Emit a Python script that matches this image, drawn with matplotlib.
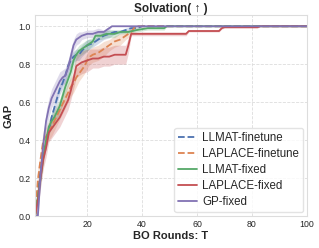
import matplotlib
matplotlib.use("Agg")
import matplotlib.pyplot as plt
import numpy as np
import seaborn as sns

sns.set_theme(style="whitegrid")
plt.rcParams['font.family'] = ['Liberation Sans', 'DejaVu Sans']

labels = ["LLMAT-finetune", "LAPLACE-finetune", "LLMAT-fixed", "LAPLACE-fixed", "GP-fixed"]
colors = ["#4C72B0", "#DD8452", "#55A868", "#C44E52", "#8172B3"]
styles = ["--", "--", "-", "-", "-"]

llmat_ft_x = [1, 2, 3, 4, 5, 6, 7, 8, 9, 10, 11, 12, 13, 14, 15, 16, 17, 18, 20, 22, 24, 26, 28, 30, 32, 34, 36, 38, 40, 100]
llmat_ft_y = [0.0, 0.12, 0.25, 0.33, 0.38, 0.45, 0.52, 0.57, 0.62, 0.67, 0.70, 0.74, 0.79, 0.82, 0.84, 0.85, 0.85, 0.87, 0.90, 0.91, 0.93, 0.95, 0.96, 0.97, 0.97, 0.98, 0.99, 0.99, 1.0, 1.0]
llmat_ft_s = [0.0, 0.03, 0.03, 0.03, 0.03, 0.03, 0.03, 0.03, 0.03, 0.03, 0.03, 0.03, 0.03, 0.03, 0.03, 0.03, 0.03, 0.03, 0.03, 0.02, 0.02, 0.02, 0.02, 0.01, 0.01, 0.01, 0.01, 0.01, 0.0, 0.0]

laplace_ft_x = [1, 2, 3, 4, 5, 6, 7, 8, 9, 10, 11, 12, 13, 14, 15, 16, 17, 18, 19, 20, 21, 22, 24, 26, 28, 30, 32, 34, 36, 37, 38, 100]
laplace_ft_y = [0.0, 0.19, 0.30, 0.40, 0.42, 0.45, 0.47, 0.50, 0.53, 0.56, 0.59, 0.62, 0.65, 0.68, 0.70, 0.73, 0.75, 0.77, 0.79, 0.82, 0.84, 0.85, 0.86, 0.88, 0.90, 0.92, 0.93, 0.95, 0.97, 0.99, 1.0, 1.0]
laplace_ft_s = [0.0, 0.06, 0.05, 0.05, 0.05, 0.05, 0.05, 0.05, 0.05, 0.05, 0.05, 0.05, 0.05, 0.05, 0.05, 0.05, 0.04, 0.04, 0.04, 0.04, 0.04, 0.04, 0.04, 0.04, 0.03, 0.03, 0.03, 0.02, 0.02, 0.01, 0.0, 0.0]

llmat_fx_x = [1, 2, 3, 4, 5, 6, 7, 8, 9, 10, 11, 12, 13, 14, 15, 16, 17, 18, 20, 22, 23, 25, 27, 30, 32, 35, 38, 42, 48, 49, 100]
llmat_fx_y = [0.0, 0.10, 0.20, 0.31, 0.40, 0.47, 0.50, 0.52, 0.55, 0.58, 0.63, 0.68, 0.72, 0.76, 0.82, 0.85, 0.87, 0.88, 0.90, 0.92, 0.95, 0.95, 0.96, 0.96, 0.97, 0.97, 0.98, 0.99, 0.99, 1.0, 1.0]
llmat_fx_s = [0.0, 0.05, 0.04, 0.04, 0.04, 0.04, 0.04, 0.04, 0.04, 0.04, 0.04, 0.04, 0.04, 0.04, 0.04, 0.03, 0.03, 0.03, 0.03, 0.02, 0.02, 0.02, 0.02, 0.02, 0.01, 0.01, 0.01, 0.01, 0.01, 0.0, 0.0]

laplace_fx_x = [1, 2, 3, 4, 5, 6, 7, 8, 9, 10, 11, 12, 13, 14, 15, 16, 17, 18, 20, 22, 24, 26, 28, 30, 34, 35, 36, 56, 57, 68, 69, 70, 82, 83, 100]
laplace_fx_y = [0.0, 0.08, 0.20, 0.30, 0.36, 0.44, 0.46, 0.48, 0.50, 0.52, 0.55, 0.58, 0.61, 0.66, 0.72, 0.79, 0.80, 0.81, 0.82, 0.83, 0.83, 0.84, 0.84, 0.85, 0.85, 0.90, 0.96, 0.96, 0.975, 0.975, 0.99, 0.995, 0.995, 1.0, 1.0]
laplace_fx_s = [0.0, 0.05, 0.05, 0.05, 0.05, 0.05, 0.05, 0.05, 0.05, 0.05, 0.05, 0.05, 0.05, 0.05, 0.05, 0.06, 0.06, 0.06, 0.06, 0.05, 0.05, 0.05, 0.05, 0.05, 0.05, 0.04, 0.01, 0.01, 0.005, 0.005, 0.005, 0.005, 0.005, 0.0, 0.0]

gp_x = [1, 2, 3, 4, 5, 6, 7, 8, 9, 10, 11, 12, 13, 14, 15, 16, 17, 18, 20, 22, 24, 26, 27, 28, 29, 30, 100]
gp_y = [0.0, 0.0, 0.22, 0.38, 0.50, 0.57, 0.62, 0.65, 0.68, 0.71, 0.73, 0.74, 0.78, 0.84, 0.90, 0.93, 0.94, 0.95, 0.96, 0.96, 0.97, 0.97, 0.98, 0.99, 1.0, 1.0, 1.0]
gp_s = [0.0, 0.03, 0.05, 0.05, 0.05, 0.05, 0.05, 0.05, 0.05, 0.05, 0.04, 0.04, 0.04, 0.04, 0.03, 0.03, 0.03, 0.02, 0.02, 0.02, 0.02, 0.01, 0.01, 0.01, 0.0, 0.0, 0.0]

series = [
    (llmat_ft_x, llmat_ft_y, llmat_ft_s),
    (laplace_ft_x, laplace_ft_y, laplace_ft_s),
    (llmat_fx_x, llmat_fx_y, llmat_fx_s),
    (laplace_fx_x, laplace_fx_y, laplace_fx_s),
    (gp_x, gp_y, gp_s),
]

fig = plt.figure(figsize=(3.19, 2.48), dpi=100)
ax = fig.add_axes([0.110, 0.129, 0.852, 0.811])

for (x, y, s), lab, c, ls in zip(series, labels, colors, styles):
    x = np.array(x); y = np.array(y); s = np.array(s)
    ax.fill_between(x, y - s, np.minimum(y + s, 1.0), color=c, alpha=0.25, linewidth=0)
    ax.plot(x, y, ls, color=c, lw=1.3, label=lab)

ax.set_xlim(1, 100)
ax.set_ylim(0, 1.06)
ax.set_xticks([20, 40, 60, 80, 100])
ax.set_yticks([0.0, 0.2, 0.4, 0.6, 0.8, 1.0])
ax.set_yticklabels(["0.0", "0.2", "0.4", "0.6", "0.8", "1.0"])
ax.tick_params(axis='both', labelsize=6.3, pad=3, length=0)
ax.grid(True, linestyle='--', linewidth=0.6, color='#dddddd')
for sp in ax.spines.values():
    sp.set_color('#dddddd')
    sp.set_linewidth(0.8)

ax.set_title("Solvation( \u2191 )", fontsize=8.5, fontweight='bold', pad=2)
ax.set_xlabel("BO Rounds: T", fontsize=8, fontweight='bold', labelpad=1)
ax.set_ylabel("GAP", fontsize=8, fontweight='bold', labelpad=4)

leg = ax.legend(loc='lower right', fontsize=8.3, frameon=True, handlelength=1.6,
                borderpad=0.35, labelspacing=0.35, handletextpad=0.45,
                borderaxespad=0.35)
leg.get_frame().set_edgecolor('#dddddd')

fig.savefig("out.png", dpi=100)
